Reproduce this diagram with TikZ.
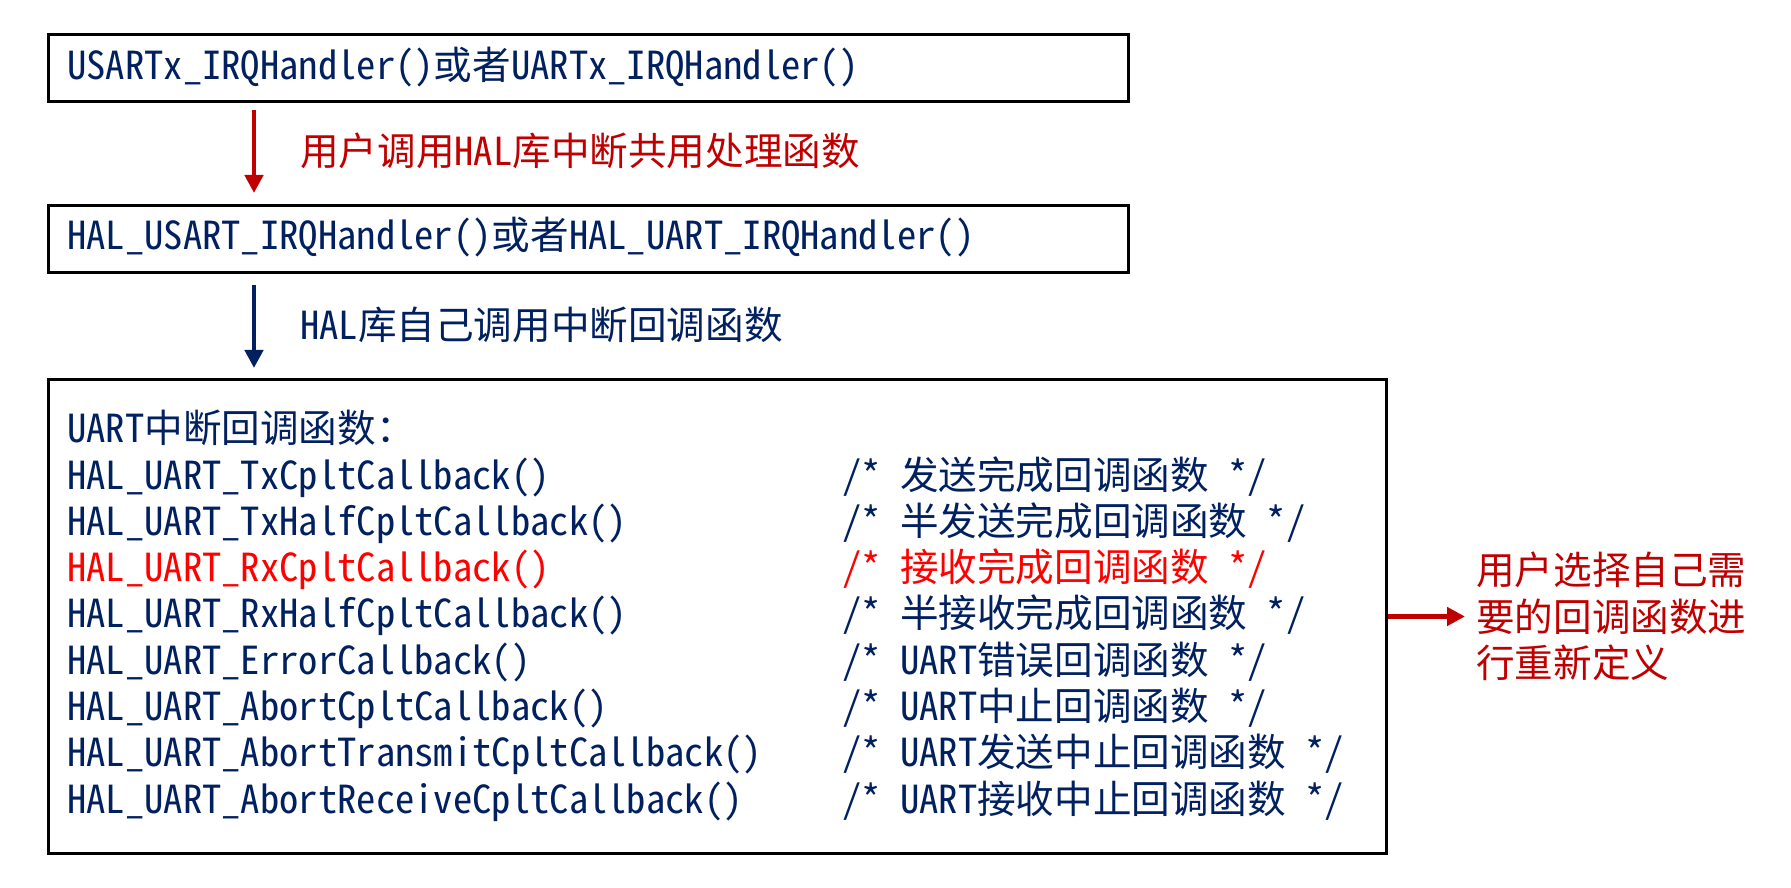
\documentclass[tikz,border=0pt]{standalone}
\usepackage{fontspec}
\setmainfont{Noto Sans Mono CJK SC}
\usetikzlibrary{positioning,arrows.meta}
\definecolor{halnavy}{RGB}{0,32,96}
\definecolor{halred}{RGB}{192,0,0}
\definecolor{rxred}{RGB}{255,0,0}
\tikzset{
  box/.style={draw=black,line width=3pt,anchor=north west,inner sep=0pt},
  code/.style={anchor=base west,inner sep=0pt,text=halnavy},
  callarrow/.style={line width=4.5pt,-{Triangle[width=18pt,length=18pt]}},
}
\begin{document}
\begin{tikzpicture}[x=1pt,y=1pt,font=\fontsize{38.6}{46.5}\selectfont]
\useasboundingbox (0,0) rectangle (1791,887);
% boxes
\node[box,minimum width=1080pt,minimum height=67pt] (irq) at (47,854) {};
\node[box,minimum width=1080pt,minimum height=67pt] (halirq) at (47,683) {};
\node[box,minimum width=1338pt,minimum height=474pt] (cbbox) at (47,509) {};
\node[code] (irqtext) at (67,807) {USARTx\_IRQHandler()或者UARTx\_IRQHandler()};
\node[code] (halirqtext) at (67,637) {HAL\_USART\_IRQHandler()或者HAL\_UART\_IRQHandler()};
% arrows between the boxes
\draw[callarrow,halred] ([xshift=207pt,yshift=-7pt]irq.south west) -- ([xshift=207pt,yshift=11pt]halirq.north west);
\draw[callarrow,halnavy] ([xshift=207pt,yshift=-11pt]halirq.south west) -- ([xshift=207pt,yshift=10pt]cbbox.north west);
\node[code,text=halred] (userlabel) at (300,721) {用户调用HAL库中断共用处理函数};
\node[code] (hallabel) at (300,547) {HAL库自己调用中断回调函数};
% callback list
\path (67,444) node[code] (cbtitle) {UART中断回调函数：}
  (67,397.75) node[code] (txcplt) {HAL\_UART\_TxCpltCallback()}
  (842,397.75) node[code] (txcpltc) {/* 发送完成回调函数 */}
  (67,351.5) node[code] (txhalf) {HAL\_UART\_TxHalfCpltCallback()}
  (842,351.5) node[code] (txhalfc) {/* 半发送完成回调函数 */}
  (67,305.25) node[code,text=rxred] (rxcplt) {HAL\_UART\_RxCpltCallback()}
  (842,305.25) node[code,text=rxred] (rxcpltc) {/* 接收完成回调函数 */}
  (67,259) node[code] (rxhalf) {HAL\_UART\_RxHalfCpltCallback()}
  (842,259) node[code] (rxhalfc) {/* 半接收完成回调函数 */}
  (67,212.75) node[code] (error) {HAL\_UART\_ErrorCallback()}
  (842,212.75) node[code] (errorc) {/* UART错误回调函数 */}
  (67,166.5) node[code] (abort) {HAL\_UART\_AbortCpltCallback()}
  (842,166.5) node[code] (abortc) {/* UART中止回调函数 */}
  (67,120.25) node[code] (aborttx) {HAL\_UART\_AbortTransmitCpltCallback()}
  (842,120.25) node[code] (aborttxc) {/* UART发送中止回调函数 */}
  (67,74) node[code] (abortrx) {HAL\_UART\_AbortReceiveCpltCallback()}
  (842,74) node[code] (abortrxc) {/* UART接收中止回调函数 */};
% note on the right
\node[right=88pt of cbbox,inner sep=0pt,text=halred,align=left] (usernote) {用户选择自己需\\要的回调函数进\\行重新定义};
\draw[line width=5pt,halred,-{Triangle[width=18pt,length=18pt]}] (cbbox.east) -- ([xshift=-11pt]usernote.west);
\end{tikzpicture}
\end{document}
